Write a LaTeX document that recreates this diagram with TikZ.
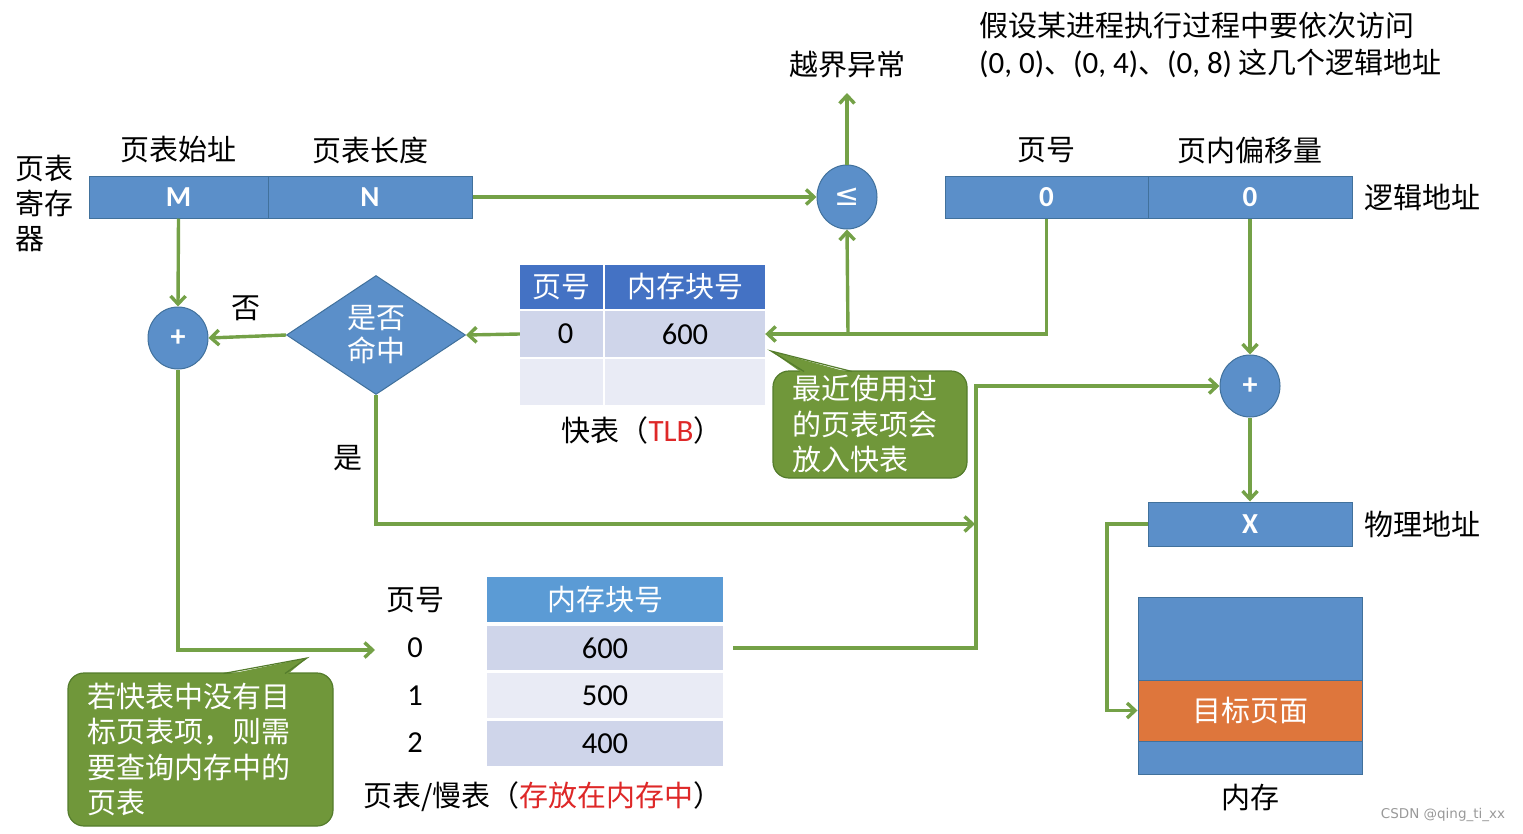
\documentclass[tikz,border=0pt]{standalone}
\usepackage{fontspec}
\setmainfont{Noto Sans CJK SC}
\newfontfamily\lat{Carlito}
\newfontfamily\dvs{DejaVu Sans}
\usetikzlibrary{shapes.geometric,arrows.meta}
\definecolor{boxblue}{RGB}{91,143,201}
\definecolor{boxline}{RGB}{65,113,156}
\definecolor{tlbhead}{RGB}{68,114,196}
\definecolor{pthead}{RGB}{91,155,213}
\definecolor{rowA}{RGB}{207,213,234}
\definecolor{rowB}{RGB}{233,235,245}
\definecolor{grn}{RGB}{116,161,71}
\definecolor{callfill}{RGB}{112,151,58}
\definecolor{callline}{RGB}{84,124,44}
\definecolor{orng}{RGB}{222,118,60}
\definecolor{redt}{RGB}{222,40,40}
\begin{document}
\begin{tikzpicture}[x=1pt,y=-1pt,
  lbl/.style={inner sep=0, align=center, font=\fontsize{29}{35}\selectfont},
  bluebox/.style={draw=boxline, fill=boxblue, line width=1pt, inner sep=0, text=white, font=\fontsize{29}{34}\selectfont\lat\bfseries},
  opnode/.style={ellipse, draw=boxline, fill=boxblue, line width=1pt, inner sep=0, text=white, minimum width=60pt, minimum height=62pt},
  cell/.style={inner sep=0, font=\fontsize{29}{35}\selectfont},
  hcell/.style={cell, text=white},
  numfont/.style={font=\fontsize{30.5}{35}\selectfont\lat},
  numtxt/.style={inner sep=0, numfont},
  arr/.style={draw=grn, line width=3.4pt, -{Straight Barb[length=8pt,width=15pt]}},
  callbox/.style={draw=callline, fill=callfill, line width=1.2pt, rounded corners=16pt, inner sep=0, text=white, align=left, font=\fontsize{29}{35.5}\selectfont}
]
\path[use as bounding box] (0,0) rectangle (1523,833);

% ---------- page table register ----------
\node[lbl, align=left] (regl) at (45,203) {页表\\寄存\\器};
\node[bluebox, minimum width=179pt, minimum height=42pt] (M) at (178.5,197) {M};
\node[bluebox, minimum width=204pt, minimum height=42pt] (N) at (370,197) {N};
\node[lbl] (ml) at (178,150) {页表始址};
\node[lbl] (nl) at (370,150) {页表长度};

% ---------- compare ----------
\node[opnode, minimum height=64pt, font=\fontsize{30}{32}\selectfont\dvs] (cmp) at (847,197) {≤};
\node[lbl] (oob) at (847,65) {越界异常};
\coordinate (oobtip) at (847,93);

% ---------- top-right text ----------
\node[lbl, anchor=west] (q1) at (979,26) {假设某进程执行过程中要依次访问};
\node[lbl, anchor=west] (q2) at (979,63) {{\fontsize{31}{35}\selectfont\lat (0, 0)}、{\fontsize{31}{35}\selectfont\lat (0, 4)}、{\fontsize{31}{35}\selectfont\lat (0, 8)} 这几个逻辑地址};

% ---------- logical address ----------
\node[bluebox, minimum width=203pt, minimum height=42pt] (L0) at (1046.5,197) {0};
\node[bluebox, minimum width=204pt, minimum height=42pt] (L1) at (1250,197) {0};
\node[lbl] (l0l) at (1046,150) {页号};
\node[lbl] (l1l) at (1250,150) {页内偏移量};
\node[lbl] (lal) at (1422,197) {逻辑地址};

% ---------- TLB ----------
\node[hcell, fill=tlbhead, minimum width=83pt, minimum height=44pt] (t01) at (561.5,287) {页号};
\node[hcell, fill=tlbhead, minimum width=160pt, minimum height=44pt] (t02) at (685,287) {内存块号};
\node[cell, fill=rowA, minimum width=83pt, minimum height=46pt, numfont] (t11) at (561.5,334) {\hspace*{8pt}0};
\node[cell, fill=rowA, minimum width=160pt, minimum height=46pt, numfont] (t12) at (685,334) {600};
\node[cell, fill=rowB, minimum width=83pt, minimum height=46pt] (t21) at (561.5,382) {};
\node[cell, fill=rowB, minimum width=160pt, minimum height=46pt] (t22) at (685,382) {};
\node[lbl] (tlbl) at (642,430) {快表（{\fontsize{31}{35}\selectfont\lat\color{redt}TLB}）};

% ---------- hit? ----------
\node[diamond, draw=boxline, fill=boxblue, line width=1pt, inner sep=0, aspect=1.5, minimum width=179pt, minimum height=119pt, text=white, align=center, font=\fontsize{29}{33}\selectfont] (dia) at (376,335) {是否\\命中};
\node[lbl] (no) at (246,308) {否};
\node[lbl] (yes) at (348,458) {是};

% ---------- adders ----------
\node[opnode, font=\fontsize{30}{32}\selectfont\lat\bfseries] (p1) at (178,338) {+};
\node[opnode, font=\fontsize{30}{32}\selectfont\lat\bfseries] (p2) at (1250,386) {+};

% ---------- physical address ----------
\node[bluebox, minimum width=204pt, minimum height=44pt] (X) at (1250,524) {X};
\node[lbl] (pal) at (1422,524) {物理地址};

% ---------- memory ----------
\node[draw=boxline, fill=boxblue, line width=1pt, inner sep=0, minimum width=224pt, minimum height=83pt] (mtop) at (1250,638.5) {};
\node[draw=boxline, fill=orng, line width=1pt, inner sep=0, minimum width=224pt, minimum height=61pt, text=white, font=\fontsize{29}{35}\selectfont] (tgt) at (1250,710.5) {目标页面};
\node[draw=boxline, fill=boxblue, line width=1pt, inner sep=0, minimum width=224pt, minimum height=33pt] (mbot) at (1250,757.5) {};
\node[lbl] (meml) at (1250,797) {内存};

% ---------- page table in memory ----------
\node[lbl] (pnl) at (415,600) {页号};
\node[numtxt] (pn0) at (415,648) {0};
\node[numtxt] (pn1) at (415,696) {1};
\node[numtxt] (pn2) at (415,743) {2};
\node[hcell, fill=pthead, minimum width=236pt, minimum height=45pt] (ph) at (605,599.5) {内存块号};
\node[cell, fill=rowA, minimum width=236pt, minimum height=44pt, numfont] (pr0) at (605,648) {600};
\node[cell, fill=rowB, minimum width=236pt, minimum height=45pt, numfont] (pr1) at (605,695.5) {500};
\node[cell, fill=rowA, minimum width=236pt, minimum height=45pt, numfont] (pr2) at (605,743.5) {400};
\node[lbl] (ptl) at (543,797) {页表/慢表（{\color{redt}存放在内存中}）};

% ---------- callouts ----------
\node[callbox, minimum width=194pt, minimum height=107pt, text width=156pt] (c1) at (870,424.5) {最近使用过\\的页表项会\\放入快表};
\fill[callfill] (803,373.5) -- (771,351) -- (853,373.5) -- cycle;
\draw[callline, line width=1.2pt, line join=miter] (804,371.5) -- (771,351) -- (852,371.5);

\node[callbox, minimum width=265pt, minimum height=153pt, text width=226pt] (c2) at (200.5,749.5) {若快表中没有目\\标页表项，则需\\要查询内存中的\\页表};
\fill[callfill] (222,675.5) -- (307,658) -- (286,675.5) -- cycle;
\draw[callline, line width=1.2pt] (223.5,673.5) -- (307,658) -- (285,673.5);

% ---------- connectors ----------
\coordinate (jn) at (848,334);
\coordinate (pa) at (375,650);
\coordinate (jy) at (975,524);
\coordinate (jx) at (976,386);
\coordinate (xl) at (1107,524);
\draw[arr] (N.east) -- (cmp.west);
\draw[arr] (cmp.north) -- (oobtip);
\draw[arr] (L0.south) |- (t12.east);
\draw[arr] (jn) -- (cmp.south);
\draw[arr] (L1.south) -- (p2.north);
\draw[arr] (p2.south) -- (X.north);
\draw[arr] (X.west) -- (xl) |- (tgt.west);
\draw[arr] (t11.west) -- (dia.east);
\draw[arr] (dia.west) -- (p1.east);
\draw[arr] (M.south) -- (p1.north);
\draw[arr] (p1.south) |- (pa);
\draw[arr] (dia.south) |- (jy);
\draw[arr, shorten <=10pt] (pr0.east) -| (jx) -- (p2.west);

% ---------- watermark ----------
\node[inner sep=0, text=gray!80, font=\fontsize{13.5}{15}\selectfont\dvs] (wm) at (1443,815) {CSDN @qing\_ti\_xx};
\end{tikzpicture}
\end{document}
